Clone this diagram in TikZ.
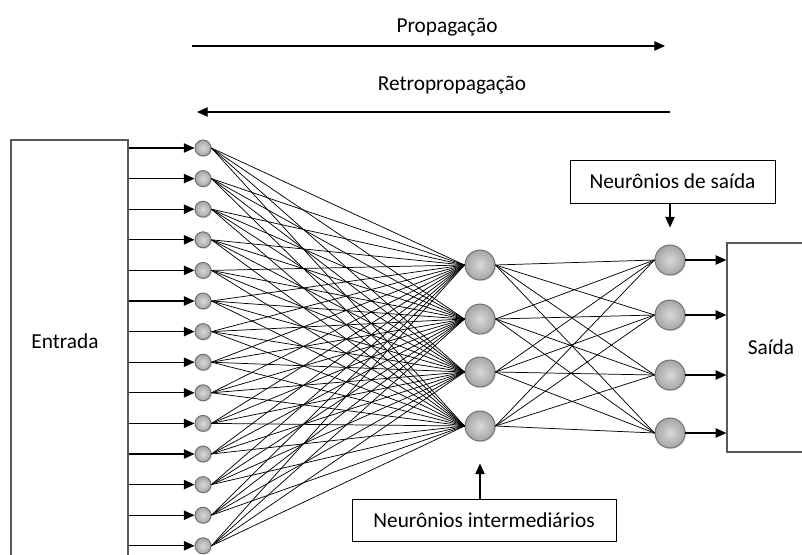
\documentclass[tikz,border=0pt]{standalone}
\usepackage{fontspec}
\setmainfont{Carlito}
\usetikzlibrary{arrows.meta,shadows}

\begin{document}
\begin{tikzpicture}
  [x=0.75pt,y=-0.75pt,font=\fontsize{16}{19}\selectfont,
   neuron/.style={circle,inner sep=0pt,draw=gray!85!black,line width=.7pt,
     inner color=gray!30,outer color=gray!70,
     drop shadow={opacity=.25,shadow xshift=.8pt,shadow yshift=-.8pt}},
   small/.style={neuron,minimum size=12pt},
   big/.style={neuron,minimum size=22.5pt},
   iobox/.style={draw=gray!70!black,line width=1pt,inner sep=0pt},
   lblbox/.style={draw,line width=.6pt,inner sep=0pt},
   syn/.style={line width=.55pt},
   seta/.style={-{Triangle[length=8pt,width=7pt]},line width=.9pt}]
  \useasboundingbox (0,0) rectangle (802,554);

  % caixas de entrada e saida
  \node[iobox,minimum width=87.75pt,minimum height=315pt] (inbox) at (69.5,350) {};
  \node (entlbl) at (65,341) {Entrada};
  \node[iobox,minimum width=66pt,minimum height=156.75pt] (outbox) at (771,347.5) {Saída};

  % neuronios
  \foreach \i in {1,...,14}
    \node[small] (in\i) at (203,{148+30.6*(\i-1)}) {};
  \foreach \j/\y in {1/265,2/319,3/372,4/426}
    \node[big] (hid\j) at (480,\y) {};
  \foreach \k/\y in {1/260,2/315,3/375,4/433}
    \node[big] (out\k) at (670,\y) {};

  % ligacoes
  \foreach \i in {1,...,14}
    \foreach \j in {1,...,4}
      \draw[syn] (in\i.east) -- (hid\j.west);
  \foreach \j in {1,...,4}
    \foreach \k in {1,...,4}
      \draw[syn] (hid\j.east) -- (out\k.west);

  \foreach \i in {1,...,14}
    \draw[seta] (inbox.east |- in\i) -- (in\i.west);
  \foreach \k in {1,...,4}
    \draw[seta] (out\k.east) -- (outbox.west |- out\k);

  % rotulos
  \node[lblbox,minimum width=153.75pt,minimum height=32.25pt] (lblsai) at (672.5,181.5) {Neurônios de saída};
  \node[lblbox,minimum width=198pt,minimum height=31.5pt] (lblint) at (484,520) {Neurônios intermediários};
  \draw[seta] (lblsai.south -| out1) -- ([yshift=12.75pt]out1.north);
  \draw[seta] (lblint.north -| hid4) -- ([yshift=-16.5pt]hid4.south);

  % sentido
  \coordinate (p0) at (192,46);
  \coordinate (p1) at (665,46);
  \node (prop) at (447,27) {Propagação};
  \draw[seta] (p0) -- (p1);
  \coordinate (r0) at (670,112);
  \coordinate (r1) at (197,112);
  \node (retro) at (452,85) {Retropropagação};
  \draw[seta] (r0) -- (r1);
\end{tikzpicture}
\end{document}
